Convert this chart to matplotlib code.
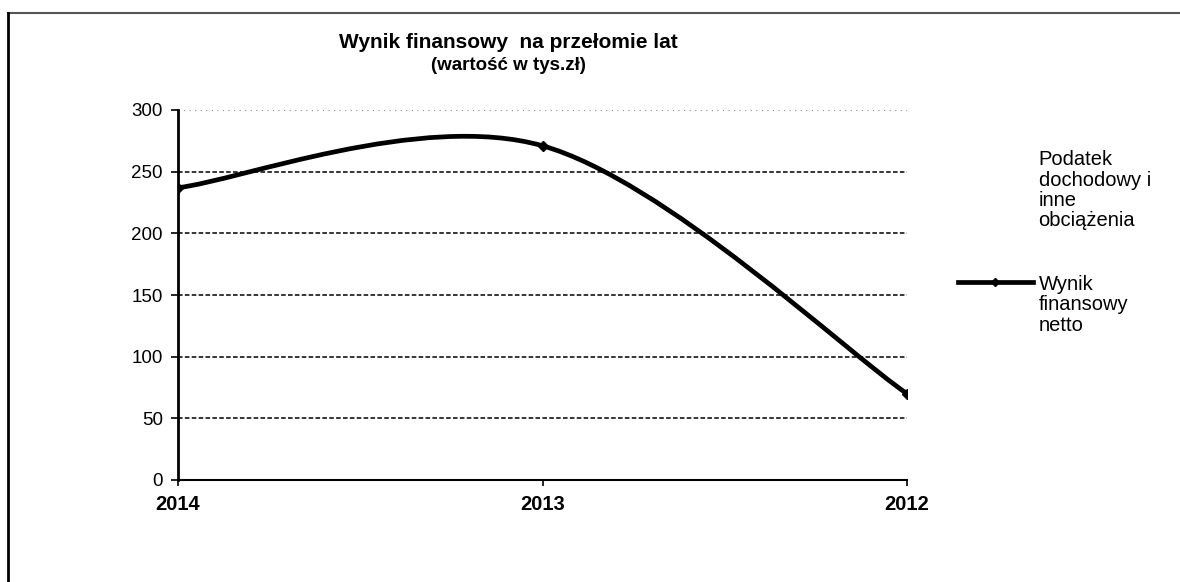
import matplotlib
matplotlib.use("Agg")
import matplotlib.pyplot as plt
from matplotlib.path import Path
from matplotlib.patches import PathPatch
from matplotlib.lines import Line2D

plt.rcParams['font.family'] = ['Liberation Sans', 'DejaVu Sans']

# dane
lata = ['2014', '2013', '2012']
wynik_netto = [237, 271, 70]
podatek = []  # seria bez widocznej linii na wykresie
yticks = [0, 50, 100, 150, 200, 250, 300]

fig = plt.figure(figsize=(11.8, 5.82), dpi=100)
ax = fig.add_axes([178 / 1180, 102 / 582, 729 / 1180, 370 / 582])

# wygładzona linia jak w Excelu (krzywe Beziera)
xs = list(range(len(lata)))
pts = list(zip(xs, wynik_netto))
verts = [pts[0]]
codes = [Path.MOVETO]
for i in range(len(pts) - 1):
    p0 = pts[max(i - 1, 0)]
    p1 = pts[i]
    p2 = pts[i + 1]
    p3 = pts[min(i + 2, len(pts) - 1)]
    c1 = (p1[0] + (p2[0] - p0[0]) / 6, p1[1] + (p2[1] - p0[1]) / 6)
    c2 = (p2[0] - (p3[0] - p1[0]) / 6, p2[1] - (p3[1] - p1[1]) / 6)
    verts += [c1, c2, p2]
    codes += [Path.CURVE4] * 3
ax.add_patch(PathPatch(Path(verts, codes), facecolor='none', edgecolor='black',
                       lw=3.4, capstyle='round', joinstyle='round', zorder=3))
ax.plot(xs, wynik_netto, linestyle='none', marker='D', markersize=5,
        color='black', zorder=4)

ax.set_xlim(0, 2)
ax.set_ylim(0, 300)
ax.set_xticks(xs)
ax.set_xticklabels(lata, fontsize=14.5, fontweight='bold')
ax.set_yticks(yticks)
ax.tick_params(axis='y', direction='out', length=5, width=1.2, labelsize=13.5, pad=6)
ax.tick_params(axis='x', direction='out', length=4, width=1.2, pad=7)

ax.grid(axis='y', color='black', linestyle=(0, (3, 1.5)), linewidth=1.1)
gl = ax.get_ygridlines()
gl[0].set_visible(False)
gl[-1].set_color('#888888')
gl[-1].set_linestyle((0, (1, 4)))
gl[-1].set_linewidth(0.8)

for s in ['top', 'right']:
    ax.spines[s].set_visible(False)
ax.spines['left'].set_linewidth(2)
ax.spines['bottom'].set_linewidth(1.5)

# tytuł
fig.text(508 / 1180, 1 - 43 / 582, 'Wynik finansowy  na przełomie lat',
         ha='center', va='center', fontsize=15, fontweight='bold')
fig.text(508 / 1180, 1 - 66 / 582, '(wartość w tys.zł)',
         ha='center', va='center', fontsize=13.5, fontweight='bold')

# legenda
h1 = Line2D(podatek, podatek, linestyle='none')
h2 = Line2D([], [], color='black', lw=3.4, marker='D', markersize=4)
leg = fig.legend([h1, h2], ['Podatek\ndochodowy i\ninne\nobciążenia', 'Wynik\nfinansowy\nnetto'],
                 loc='upper left', bbox_to_anchor=(958 / 1180, 1 - 150 / 582),
                 frameon=False, fontsize=14.5, handlelength=3.7, handletextpad=0.3,
                 labelspacing=2.2, borderpad=0, borderaxespad=0)
for t in leg.get_texts():
    t.set_linespacing(1.1)
for col in leg._legend_handle_box.get_children():
    for row in col.get_children():
        row.align = 'top'

# ramka obrazka
fig.add_artist(Line2D([8 / 1180, 1], [1 - 13 / 582, 1 - 13 / 582], color='#555555', lw=1.5))
fig.add_artist(Line2D([8 / 1180, 8 / 1180], [0, 1 - 13 / 582], color='black', lw=2))

fig.savefig('out.png', dpi=100)
